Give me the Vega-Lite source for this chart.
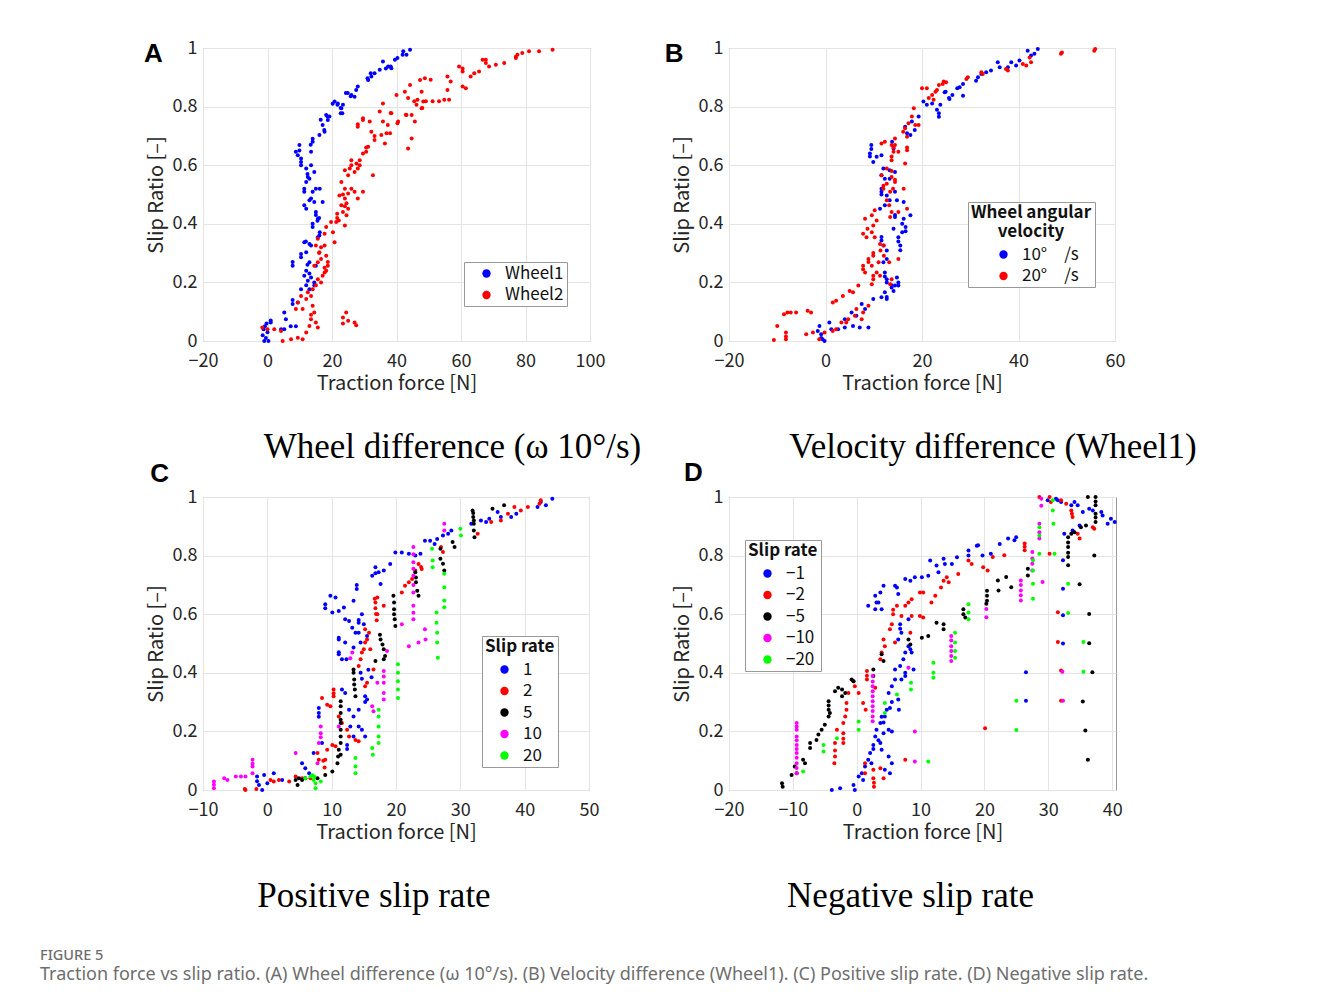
{
"$schema": "https://vega.github.io/schema/vega-lite/v6.json",
"background": "white",
"padding": {"left": 40, "top": 38, "right": 5, "bottom": 5},
"config": {
  "view": {"stroke": "#999999", "strokeWidth": 1},
  "axis": {"grid": true, "gridColor": "#e4e4e4", "gridWidth": 1, "ticks": false, "domain": false, "labelFont": "Noto Sans CJK JP", "labelFontSize": 18, "labelColor": "#262626", "titleFont": "Noto Sans CJK JP", "titleFontSize": 20, "titleFontWeight": "normal", "titleColor": "#262626", "labelFlush": false},
  "axisX": {"labelPadding": 11, "titlePadding": 3},
  "axisY": {"labelPadding": 6, "titlePadding": 6},
  "legend": {"orient": "none", "strokeColor": "#999999", "fillColor": "white", "padding": 3, "labelFont": "Noto Sans CJK JP", "labelFontSize": 17, "labelColor": "#111111", "titleFont": "Noto Sans CJK JP", "titleFontSize": 17, "titleFontWeight": "bold", "titleColor": "#111111", "symbolType": "circle", "symbolSize": 70, "symbolStrokeWidth": 0, "symbolOpacity": 1, "rowPadding": 3.5, "labelOffset": 10, "symbolOffset": 11},
  "title": {"font": "Liberation Serif", "fontSize": 35, "fontWeight": "normal", "color": "#000000"}
},
"datasets": {
"A": [
{"s":"Wheel1","x":-1.5,"y":0.02},{"s":"Wheel1","x":-1.2,"y":0.04},{"s":"Wheel1","x":-1,"y":0.0},{"s":"Wheel1","x":-0.8,"y":0.05},{"s":"Wheel1","x":-0.5,"y":0.01},{"s":"Wheel1","x":-0.3,"y":0.06},{"s":"Wheel1","x":0,"y":0.03},{"s":"Wheel1","x":0.3,"y":0.0},{"s":"Wheel1","x":1,"y":0.063},{"s":"Wheel1","x":1,"y":0.07},
{"s":"Wheel1","x":4.2,"y":0.04},{"s":"Wheel1","x":5.2,"y":0.04},{"s":"Wheel1","x":7.2,"y":0.05},{"s":"Wheel1","x":8.8,"y":0.05},{"s":"Wheel1","x":5.7,"y":0.074},{"s":"Wheel1","x":5.2,"y":0.097},{"s":"Wheel1","x":7.8,"y":0.126},{"s":"Wheel1","x":7.8,"y":0.14},{"s":"Wheel1","x":7.8,"y":0.257},{"s":"Wheel1","x":7.8,"y":0.27},
{"s":"Wheel1","x":9.4,"y":0.131},{"s":"Wheel1","x":10.4,"y":0.177},{"s":"Wheel1","x":10.4,"y":0.297},{"s":"Wheel1","x":11.4,"y":0.223},{"s":"Wheel1","x":12,"y":0.24},{"s":"Wheel1","x":12.5,"y":0.206},{"s":"Wheel1","x":13,"y":0.177},{"s":"Wheel1","x":13.5,"y":0.217},{"s":"Wheel1","x":14.5,"y":0.189},{"s":"Wheel1","x":15,"y":0.257},
{"s":"Wheel1","x":13,"y":0.269},{"s":"Wheel1","x":11.4,"y":0.337},{"s":"Wheel1","x":12,"y":0.303},{"s":"Wheel1","x":10.4,"y":0.286},{"s":"Wheel1","x":13,"y":0.331},{"s":"Wheel1","x":13.5,"y":0.326},{"s":"Wheel1","x":15.6,"y":0.354},{"s":"Wheel1","x":16.2,"y":0.371},{"s":"Wheel1","x":14,"y":0.389},{"s":"Wheel1","x":15.6,"y":0.417},
{"s":"Wheel1","x":15,"y":0.44},{"s":"Wheel1","x":12,"y":0.451},{"s":"Wheel1","x":11.4,"y":0.463},{"s":"Wheel1","x":13,"y":0.48},{"s":"Wheel1","x":14.5,"y":0.474},{"s":"Wheel1","x":17.1,"y":0.474},{"s":"Wheel1","x":11.4,"y":0.509},{"s":"Wheel1","x":13.5,"y":0.486},{"s":"Wheel1","x":12,"y":0.543},{"s":"Wheel1","x":15,"y":0.52},
{"s":"Wheel1","x":16.2,"y":0.52},{"s":"Wheel1","x":14,"y":0.509},{"s":"Wheel1","x":13,"y":0.554},{"s":"Wheel1","x":14.5,"y":0.577},{"s":"Wheel1","x":12,"y":0.589},{"s":"Wheel1","x":13.5,"y":0.6},{"s":"Wheel1","x":10.4,"y":0.611},{"s":"Wheel1","x":9.4,"y":0.634},{"s":"Wheel1","x":8.8,"y":0.646},{"s":"Wheel1","x":9.9,"y":0.669},
{"s":"Wheel1","x":10.4,"y":0.623},{"s":"Wheel1","x":13.5,"y":0.646},{"s":"Wheel1","x":14,"y":0.68},{"s":"Wheel1","x":16.1,"y":0.703},{"s":"Wheel1","x":17.7,"y":0.714},{"s":"Wheel1","x":17.1,"y":0.737},{"s":"Wheel1","x":18.7,"y":0.754},{"s":"Wheel1","x":18.2,"y":0.771},{"s":"Wheel1","x":19.2,"y":0.766},{"s":"Wheel1","x":20.8,"y":0.817},
{"s":"Wheel1","x":21.8,"y":0.811},{"s":"Wheel1","x":22.9,"y":0.794},{"s":"Wheel1","x":23.2,"y":0.777},{"s":"Wheel1","x":23.4,"y":0.806},{"s":"Wheel1","x":24.9,"y":0.846},{"s":"Wheel1","x":26,"y":0.84},{"s":"Wheel1","x":27.5,"y":0.857},{"s":"Wheel1","x":28,"y":0.869},{"s":"Wheel1","x":27,"y":0.834},{"s":"Wheel1","x":31.2,"y":0.891},
{"s":"Wheel1","x":32.2,"y":0.903},{"s":"Wheel1","x":33.2,"y":0.914},{"s":"Wheel1","x":34.8,"y":0.926},{"s":"Wheel1","x":35.8,"y":0.954},{"s":"Wheel1","x":37.4,"y":0.937},{"s":"Wheel1","x":38.4,"y":0.931},{"s":"Wheel1","x":39.5,"y":0.96},{"s":"Wheel1","x":42.1,"y":0.989},{"s":"Wheel1","x":43.1,"y":0.977},{"s":"Wheel1","x":44.2,"y":0.994},
{"s":"Wheel1","x":9.9,"y":0.65},{"s":"Wheel1","x":10.4,"y":0.6},{"s":"Wheel1","x":12.5,"y":0.56},{"s":"Wheel1","x":11.4,"y":0.52},{"s":"Wheel1","x":13,"y":0.23},{"s":"Wheel1","x":12,"y":0.19},{"s":"Wheel1","x":14.5,"y":0.2},{"s":"Wheel1","x":16.1,"y":0.36},{"s":"Wheel1","x":14,"y":0.4},{"s":"Wheel1","x":15,"y":0.43},
{"s":"Wheel1","x":13.4,"y":0.67},{"s":"Wheel1","x":14,"y":0.69},{"s":"Wheel1","x":12.4,"y":0.57},{"s":"Wheel1","x":15.5,"y":0.41},{"s":"Wheel1","x":16,"y":0.42},{"s":"Wheel1","x":11.9,"y":0.34},{"s":"Wheel1","x":12.4,"y":0.26},{"s":"Wheel1","x":40.3,"y":0.966},{"s":"Wheel1","x":41.9,"y":0.977},{"s":"Wheel1","x":36.7,"y":0.93},
{"s":"Wheel1","x":38.2,"y":0.937},{"s":"Wheel1","x":31,"y":0.897},{"s":"Wheel1","x":32,"y":0.914},{"s":"Wheel1","x":24.3,"y":0.846},{"s":"Wheel1","x":25.8,"y":0.835},{"s":"Wheel1","x":22.7,"y":0.795},{"s":"Wheel1","x":22.7,"y":0.777},{"s":"Wheel1","x":20.2,"y":0.81},{"s":"Wheel1","x":21.7,"y":0.806},{"s":"Wheel1","x":16.5,"y":0.755},
{"s":"Wheel1","x":17.6,"y":0.72},{"s":"Wheel1","x":18.6,"y":0.766},
{"s":"Wheel2","x":-1.6,"y":0.046},{"s":"Wheel2","x":0,"y":0.04},{"s":"Wheel2","x":2.1,"y":0.04},{"s":"Wheel2","x":4.2,"y":0.034},{"s":"Wheel2","x":4.7,"y":0.0},{"s":"Wheel2","x":7.3,"y":0.006},{"s":"Wheel2","x":9.4,"y":0.011},{"s":"Wheel2","x":10.9,"y":0.006},{"s":"Wheel2","x":12,"y":0.029},{"s":"Wheel2","x":13,"y":0.051},
{"s":"Wheel2","x":13.5,"y":0.074},{"s":"Wheel2","x":14.5,"y":0.097},{"s":"Wheel2","x":15,"y":0.063},{"s":"Wheel2","x":15.6,"y":0.046},{"s":"Wheel2","x":8.8,"y":0.109},{"s":"Wheel2","x":9.4,"y":0.131},{"s":"Wheel2","x":10.4,"y":0.154},{"s":"Wheel2","x":10.9,"y":0.109},{"s":"Wheel2","x":12,"y":0.143},{"s":"Wheel2","x":12.5,"y":0.166},
{"s":"Wheel2","x":13.5,"y":0.154},{"s":"Wheel2","x":14,"y":0.177},{"s":"Wheel2","x":15.6,"y":0.211},{"s":"Wheel2","x":16.6,"y":0.2},{"s":"Wheel2","x":17.1,"y":0.223},{"s":"Wheel2","x":17.7,"y":0.234},{"s":"Wheel2","x":14.5,"y":0.257},{"s":"Wheel2","x":15.6,"y":0.269},{"s":"Wheel2","x":16.6,"y":0.28},{"s":"Wheel2","x":18.7,"y":0.257},
{"s":"Wheel2","x":18.2,"y":0.291},{"s":"Wheel2","x":15,"y":0.326},{"s":"Wheel2","x":16.1,"y":0.303},{"s":"Wheel2","x":17.7,"y":0.326},{"s":"Wheel2","x":15.6,"y":0.349},{"s":"Wheel2","x":17.7,"y":0.366},{"s":"Wheel2","x":18.2,"y":0.389},{"s":"Wheel2","x":20.3,"y":0.371},{"s":"Wheel2","x":20.8,"y":0.337},{"s":"Wheel2","x":21.3,"y":0.406},
{"s":"Wheel2","x":19.7,"y":0.406},{"s":"Wheel2","x":22.1,"y":0.411},{"s":"Wheel2","x":21.6,"y":0.434},{"s":"Wheel2","x":24,"y":0.394},{"s":"Wheel2","x":23.4,"y":0.44},{"s":"Wheel2","x":24.5,"y":0.429},{"s":"Wheel2","x":22.9,"y":0.463},{"s":"Wheel2","x":25,"y":0.451},{"s":"Wheel2","x":24,"y":0.486},{"s":"Wheel2","x":22.3,"y":0.497},
{"s":"Wheel2","x":25,"y":0.503},{"s":"Wheel2","x":24,"y":0.52},{"s":"Wheel2","x":26,"y":0.52},{"s":"Wheel2","x":27,"y":0.509},{"s":"Wheel2","x":28,"y":0.486},{"s":"Wheel2","x":29.6,"y":0.509},{"s":"Wheel2","x":22.9,"y":0.543},{"s":"Wheel2","x":25,"y":0.566},{"s":"Wheel2","x":24,"y":0.583},{"s":"Wheel2","x":25.5,"y":0.589},
{"s":"Wheel2","x":27,"y":0.577},{"s":"Wheel2","x":27.6,"y":0.606},{"s":"Wheel2","x":26,"y":0.617},{"s":"Wheel2","x":28,"y":0.589},{"s":"Wheel2","x":28.6,"y":0.617},{"s":"Wheel2","x":32.7,"y":0.566},{"s":"Wheel2","x":31.2,"y":0.663},{"s":"Wheel2","x":30.6,"y":0.646},{"s":"Wheel2","x":33.2,"y":0.686},{"s":"Wheel2","x":28,"y":0.731},
{"s":"Wheel2","x":29.6,"y":0.754},{"s":"Wheel2","x":32.2,"y":0.714},{"s":"Wheel2","x":31.7,"y":0.749},{"s":"Wheel2","x":35.3,"y":0.703},{"s":"Wheel2","x":36.4,"y":0.674},{"s":"Wheel2","x":36.9,"y":0.709},{"s":"Wheel2","x":38,"y":0.709},{"s":"Wheel2","x":35.8,"y":0.749},{"s":"Wheel2","x":37.3,"y":0.737},{"s":"Wheel2","x":34.8,"y":0.783},
{"s":"Wheel2","x":35.8,"y":0.811},{"s":"Wheel2","x":38.4,"y":0.777},{"s":"Wheel2","x":40.5,"y":0.749},{"s":"Wheel2","x":43.6,"y":0.657},{"s":"Wheel2","x":44.7,"y":0.691},{"s":"Wheel2","x":44.7,"y":0.771},{"s":"Wheel2","x":43.1,"y":0.771},{"s":"Wheel2","x":45.7,"y":0.749},{"s":"Wheel2","x":40,"y":0.84},{"s":"Wheel2","x":42.6,"y":0.851},
{"s":"Wheel2","x":44.2,"y":0.874},{"s":"Wheel2","x":43.6,"y":0.829},{"s":"Wheel2","x":46.2,"y":0.806},{"s":"Wheel2","x":47.8,"y":0.794},{"s":"Wheel2","x":48.3,"y":0.817},{"s":"Wheel2","x":47.3,"y":0.891},{"s":"Wheel2","x":48.8,"y":0.897},{"s":"Wheel2","x":47.8,"y":0.851},
{"s":"Wheel2","x":23.4,"y":0.08},{"s":"Wheel2","x":24.4,"y":0.097},{"s":"Wheel2","x":25,"y":0.069},{"s":"Wheel2","x":23.4,"y":0.06},{"s":"Wheel2","x":27,"y":0.063},{"s":"Wheel2","x":27.5,"y":0.054},
{"s":"Wheel2","x":45.5,"y":0.818},{"s":"Wheel2","x":46.5,"y":0.823},{"s":"Wheel2","x":48,"y":0.795},{"s":"Wheel2","x":50.6,"y":0.892},{"s":"Wheel2","x":49.1,"y":0.818},{"s":"Wheel2","x":51.2,"y":0.818},{"s":"Wheel2","x":53.2,"y":0.818},{"s":"Wheel2","x":54.8,"y":0.823},{"s":"Wheel2","x":56.3,"y":0.823},{"s":"Wheel2","x":55.8,"y":0.903},
{"s":"Wheel2","x":55.8,"y":0.857},{"s":"Wheel2","x":56.8,"y":0.886},{"s":"Wheel2","x":59.4,"y":0.937},{"s":"Wheel2","x":60.5,"y":0.92},{"s":"Wheel2","x":60.5,"y":0.869},{"s":"Wheel2","x":61.5,"y":0.863},{"s":"Wheel2","x":63,"y":0.903},{"s":"Wheel2","x":64.1,"y":0.914},{"s":"Wheel2","x":65.6,"y":0.92},{"s":"Wheel2","x":66.7,"y":0.96},
{"s":"Wheel2","x":67.7,"y":0.949},{"s":"Wheel2","x":68.7,"y":0.937},{"s":"Wheel2","x":70.8,"y":0.943},{"s":"Wheel2","x":73.4,"y":0.949},{"s":"Wheel2","x":77,"y":0.966},{"s":"Wheel2","x":77.5,"y":0.977},{"s":"Wheel2","x":79,"y":0.983},{"s":"Wheel2","x":81.1,"y":0.989},{"s":"Wheel2","x":84.2,"y":0.989},{"s":"Wheel2","x":88.4,"y":0.994},
{"s":"Wheel2","x":38.2,"y":0.778},{"s":"Wheel2","x":40.3,"y":0.743},{"s":"Wheel2","x":42.9,"y":0.772},
{"s":"Wheel2","x":16,"y":0.3},{"s":"Wheel2","x":16.6,"y":0.32},{"s":"Wheel2","x":17.7,"y":0.25},{"s":"Wheel2","x":18.2,"y":0.24},{"s":"Wheel2","x":18.7,"y":0.27},{"s":"Wheel2","x":15,"y":0.19},{"s":"Wheel2","x":14,"y":0.12},{"s":"Wheel2","x":13.5,"y":0.09},{"s":"Wheel2","x":24,"y":0.46},{"s":"Wheel2","x":24.5,"y":0.47},
{"s":"Wheel2","x":23.4,"y":0.5},{"s":"Wheel2","x":21.6,"y":0.42},{"s":"Wheel2","x":26,"y":0.6},{"s":"Wheel2","x":28.6,"y":0.6},{"s":"Wheel2","x":29.6,"y":0.64},{"s":"Wheel2","x":30.6,"y":0.66},{"s":"Wheel2","x":28,"y":0.74},{"s":"Wheel2","x":29.6,"y":0.76},{"s":"Wheel2","x":33.2,"y":0.7},{"s":"Wheel2","x":60.5,"y":0.93},
{"s":"Wheel2","x":67.7,"y":0.96},{"s":"Wheel2","x":77,"y":0.97}
],
"B": [
{"s":"10","x":-1.25,"y":0.051},{"s":"10","x":-0.9,"y":0.023},{"s":"10","x":-0.6,"y":0.006},{"s":"10","x":-0.2,"y":0.0},{"s":"10","x":-1.6,"y":0.034},{"s":"10","x":0.8,"y":0.063},{"s":"10","x":1.2,"y":0.04},{"s":"10","x":2.6,"y":0.04},{"s":"10","x":4,"y":0.046},{"s":"10","x":5.7,"y":0.051},
{"s":"10","x":7.1,"y":0.046},{"s":"10","x":8.9,"y":0.046},{"s":"10","x":4,"y":0.074},{"s":"10","x":5.4,"y":0.097},{"s":"10","x":6.4,"y":0.086},{"s":"10","x":7.5,"y":0.126},{"s":"10","x":8.2,"y":0.109},{"s":"10","x":9.9,"y":0.143},{"s":"10","x":11.6,"y":0.149},{"s":"10","x":12.3,"y":0.166},
{"s":"10","x":12.7,"y":0.143},{"s":"10","x":12.7,"y":0.211},{"s":"10","x":12.3,"y":0.234},{"s":"10","x":13.7,"y":0.183},{"s":"10","x":14.1,"y":0.171},{"s":"10","x":14.4,"y":0.189},{"s":"10","x":15.1,"y":0.189},{"s":"10","x":14.8,"y":0.217},{"s":"10","x":12,"y":0.269},{"s":"10","x":12.7,"y":0.28},
{"s":"10","x":11.6,"y":0.343},{"s":"10","x":12,"y":0.326},{"s":"10","x":12.7,"y":0.309},{"s":"10","x":15.1,"y":0.354},{"s":"10","x":15.5,"y":0.326},{"s":"10","x":15.9,"y":0.371},{"s":"10","x":16.6,"y":0.389},{"s":"10","x":15.9,"y":0.4},{"s":"10","x":14.1,"y":0.383},{"s":"10","x":14.4,"y":0.423},
{"s":"10","x":16.2,"y":0.417},{"s":"10","x":17.6,"y":0.429},{"s":"10","x":12.3,"y":0.463},{"s":"10","x":11.3,"y":0.451},{"s":"10","x":13.3,"y":0.48},{"s":"10","x":14.8,"y":0.48},{"s":"10","x":11.6,"y":0.509},{"s":"10","x":12.7,"y":0.497},{"s":"10","x":11.6,"y":0.52},{"s":"10","x":14.4,"y":0.509},
{"s":"10","x":16.2,"y":0.474},{"s":"10","x":11.6,"y":0.566},{"s":"10","x":12.3,"y":0.554},{"s":"10","x":13.3,"y":0.554},{"s":"10","x":12,"y":0.589},{"s":"10","x":13.3,"y":0.583},{"s":"10","x":14.4,"y":0.577},{"s":"10","x":9.2,"y":0.64},{"s":"10","x":9.9,"y":0.611},{"s":"10","x":9.5,"y":0.669},
{"s":"10","x":10.6,"y":0.629},{"s":"10","x":11.6,"y":0.634},{"s":"10","x":13.8,"y":0.68},{"s":"10","x":14.1,"y":0.657},{"s":"10","x":16.5,"y":0.731},{"s":"10","x":16.9,"y":0.709},{"s":"10","x":17.9,"y":0.749},{"s":"10","x":17.6,"y":0.703},{"s":"10","x":18.5,"y":0.72},{"s":"10","x":19.3,"y":0.766},
{"s":"10","x":20.3,"y":0.817},{"s":"10","x":21,"y":0.806},{"s":"10","x":22.1,"y":0.811},{"s":"10","x":23.1,"y":0.789},{"s":"10","x":23.5,"y":0.777},{"s":"10","x":23.8,"y":0.806},{"s":"10","x":24.9,"y":0.851},{"s":"10","x":25.6,"y":0.829},{"s":"10","x":26.3,"y":0.84},{"s":"10","x":27.3,"y":0.863},
{"s":"10","x":24.7,"y":0.849},{"s":"10","x":25.7,"y":0.826},{"s":"10","x":27.8,"y":0.866},{"s":"10","x":28.5,"y":0.837},{"s":"10","x":28.5,"y":0.877},{"s":"10","x":31.2,"y":0.888},{"s":"10","x":31.6,"y":0.9},{"s":"10","x":32.3,"y":0.911},{"s":"10","x":33.3,"y":0.917},{"s":"10","x":34.3,"y":0.923},
{"s":"10","x":35.7,"y":0.951},{"s":"10","x":36.1,"y":0.934},{"s":"10","x":37.8,"y":0.934},{"s":"10","x":38.5,"y":0.951},{"s":"10","x":39.5,"y":0.94},{"s":"10","x":40.2,"y":0.957},{"s":"10","x":41.9,"y":0.991},{"s":"10","x":42.6,"y":0.974},{"s":"10","x":43.3,"y":0.98},{"s":"10","x":44,"y":0.997},
{"s":"10","x":9.2,"y":0.63},{"s":"10","x":9.5,"y":0.655},{"s":"10","x":11.6,"y":0.355},{"s":"10","x":12.7,"y":0.2},{"s":"10","x":12.3,"y":0.22},{"s":"10","x":15.1,"y":0.34},{"s":"10","x":15.5,"y":0.31},{"s":"10","x":16.6,"y":0.375},{"s":"10","x":14.4,"y":0.43},{"s":"10","x":11.6,"y":0.5},
{"s":"10","x":23.5,"y":0.765},{"s":"10","x":-0.9,"y":0.01},{"s":"10","x":12.7,"y":0.15},{"s":"10","x":15.1,"y":0.2},{"s":"10","x":13.7,"y":0.19},
{"s":"20","x":-10.7,"y":0.003},{"s":"20","x":-10,"y":0.051},{"s":"20","x":-8.2,"y":0.029},{"s":"20","x":-8.2,"y":0.006},{"s":"20","x":-8.6,"y":0.091},{"s":"20","x":-7.9,"y":0.097},{"s":"20","x":-7.2,"y":0.097},{"s":"20","x":-6.1,"y":0.097},{"s":"20","x":-3.7,"y":0.103},{"s":"20","x":-3,"y":0.097},
{"s":"20","x":-4,"y":0.023},{"s":"20","x":-2.6,"y":0.029},{"s":"20","x":-1.3,"y":0.006},{"s":"20","x":-0.2,"y":0.029},{"s":"20","x":1.5,"y":0.034},{"s":"20","x":2.2,"y":0.04},{"s":"20","x":3.3,"y":0.063},{"s":"20","x":4.3,"y":0.063},{"s":"20","x":4.7,"y":0.074},{"s":"20","x":6.1,"y":0.086},
{"s":"20","x":6.4,"y":0.109},{"s":"20","x":7.5,"y":0.074},{"s":"20","x":7.8,"y":0.097},{"s":"20","x":8.9,"y":0.12},{"s":"20","x":1.5,"y":0.131},{"s":"20","x":2.2,"y":0.137},{"s":"20","x":3.6,"y":0.154},{"s":"20","x":5,"y":0.171},{"s":"20","x":5.7,"y":0.166},{"s":"20","x":6.8,"y":0.189},
{"s":"20","x":8.2,"y":0.234},{"s":"20","x":7.8,"y":0.257},{"s":"20","x":8.9,"y":0.28},{"s":"20","x":9.6,"y":0.257},{"s":"20","x":9.9,"y":0.223},{"s":"20","x":10.6,"y":0.234},{"s":"20","x":9.6,"y":0.194},{"s":"20","x":9.9,"y":0.211},{"s":"20","x":11.3,"y":0.223},{"s":"20","x":13.4,"y":0.194},
{"s":"20","x":13.7,"y":0.211},{"s":"20","x":11,"y":0.269},{"s":"20","x":9.9,"y":0.291},{"s":"20","x":11.4,"y":0.309},{"s":"20","x":12.1,"y":0.291},{"s":"20","x":13.2,"y":0.269},{"s":"20","x":15.1,"y":0.28},{"s":"20","x":8.5,"y":0.354},{"s":"20","x":7.8,"y":0.366},{"s":"20","x":8.7,"y":0.383},
{"s":"20","x":9.9,"y":0.394},{"s":"20","x":9.6,"y":0.371},{"s":"20","x":10.2,"y":0.354},{"s":"20","x":8.2,"y":0.417},{"s":"20","x":9.6,"y":0.429},{"s":"20","x":10.6,"y":0.411},{"s":"20","x":10.2,"y":0.446},{"s":"20","x":11.3,"y":0.331},{"s":"20","x":12.1,"y":0.326},{"s":"20","x":12.7,"y":0.48},
{"s":"20","x":13.2,"y":0.463},{"s":"20","x":13.7,"y":0.44},{"s":"20","x":13.4,"y":0.423},{"s":"20","x":15.1,"y":0.44},{"s":"20","x":16.9,"y":0.451},{"s":"20","x":12,"y":0.52},{"s":"20","x":12.7,"y":0.537},{"s":"20","x":13.4,"y":0.509},{"s":"20","x":14,"y":0.52},{"s":"20","x":13.7,"y":0.56},
{"s":"20","x":14.4,"y":0.543},{"s":"20","x":16.2,"y":0.52},{"s":"20","x":11.6,"y":0.566},{"s":"20","x":12.7,"y":0.589},{"s":"20","x":13.7,"y":0.617},{"s":"20","x":14.1,"y":0.646},{"s":"20","x":13.7,"y":0.669},{"s":"20","x":14.4,"y":0.669},{"s":"20","x":15.1,"y":0.646},{"s":"20","x":16.5,"y":0.606},
{"s":"20","x":16.9,"y":0.651},{"s":"20","x":12.3,"y":0.68},{"s":"20","x":11.6,"y":0.674},{"s":"20","x":14.4,"y":0.691},{"s":"20","x":16.1,"y":0.714},{"s":"20","x":16.5,"y":0.726},{"s":"20","x":16.9,"y":0.697},{"s":"20","x":17.2,"y":0.743},{"s":"20","x":17.9,"y":0.766},{"s":"20","x":18.3,"y":0.794},
{"s":"20","x":18.6,"y":0.737},{"s":"20","x":19.3,"y":0.737},{"s":"20","x":20,"y":0.863},{"s":"20","x":21,"y":0.863},{"s":"20","x":21.4,"y":0.829},{"s":"20","x":22.1,"y":0.84},{"s":"20","x":22.8,"y":0.851},{"s":"20","x":22.4,"y":0.823},{"s":"20","x":23.5,"y":0.874},{"s":"20","x":24.5,"y":0.886},
{"s":"20","x":23.1,"y":0.857},{"s":"20","x":24.3,"y":0.877},{"s":"20","x":25,"y":0.883},{"s":"20","x":29.2,"y":0.894},{"s":"20","x":29.5,"y":0.9},{"s":"20","x":32.3,"y":0.917},{"s":"20","x":32.6,"y":0.911},{"s":"20","x":37.4,"y":0.928},{"s":"20","x":37.8,"y":0.923},{"s":"20","x":40.9,"y":0.945},
{"s":"20","x":41.6,"y":0.94},{"s":"20","x":42.3,"y":0.968},{"s":"20","x":42.6,"y":0.951},{"s":"20","x":48.8,"y":0.98},{"s":"20","x":49,"y":0.985},{"s":"20","x":55.7,"y":0.991},{"s":"20","x":55.9,"y":0.997},
{"s":"20","x":-8.2,"y":0.015},{"s":"20","x":7.8,"y":0.245},{"s":"20","x":13.7,"y":0.63},{"s":"20","x":14.1,"y":0.66},{"s":"20","x":13.7,"y":0.58},{"s":"20","x":9.9,"y":0.3},{"s":"20","x":8.9,"y":0.27},{"s":"20","x":16.9,"y":0.66},{"s":"20","x":14.4,"y":0.55},{"s":"20","x":12,"y":0.53}
],
"C": [
{"s":"1","x":-1.6,"y":0.046},{"s":"1","x":-1.3,"y":0.017},{"s":"1","x":-0.8,"y":0},{"s":"1","x":-0.5,"y":0.051},{"s":"1","x":0,"y":0.023},{"s":"1","x":1,"y":0.057},{"s":"1","x":2.3,"y":0.034},{"s":"1","x":5.4,"y":0.091},{"s":"1","x":5.9,"y":0.074},{"s":"1","x":6.5,"y":0.057},
{"s":"1","x":7.2,"y":0.126},{"s":"1","x":8,"y":0.263},{"s":"1","x":8,"y":0.28},{"s":"1","x":8.5,"y":0.16},{"s":"1","x":9.8,"y":0.663},{"s":"1","x":9,"y":0.634},{"s":"1","x":10.1,"y":0.606},{"s":"1","x":11.1,"y":0.611},{"s":"1","x":10.6,"y":0.657},{"s":"1","x":11.9,"y":0.623},
{"s":"1","x":12.1,"y":0.583},{"s":"1","x":12.7,"y":0.577},{"s":"1","x":11.1,"y":0.514},{"s":"1","x":12.1,"y":0.503},{"s":"1","x":11.1,"y":0.463},{"s":"1","x":11.6,"y":0.446},{"s":"1","x":12.3,"y":0.446},{"s":"1","x":13.2,"y":0.554},{"s":"1","x":13.7,"y":0.537},{"s":"1","x":13.4,"y":0.486},
{"s":"1","x":14.2,"y":0.571},{"s":"1","x":14.7,"y":0.6},{"s":"1","x":15,"y":0.566},{"s":"1","x":14.2,"y":0.537},{"s":"1","x":14.5,"y":0.503},{"s":"1","x":15.5,"y":0.526},{"s":"1","x":13.4,"y":0.646},{"s":"1","x":13.9,"y":0.686},{"s":"1","x":16.3,"y":0.731},{"s":"1","x":16.8,"y":0.76},
{"s":"1","x":17.3,"y":0.743},{"s":"1","x":18.1,"y":0.749},{"s":"1","x":17.6,"y":0.703},{"s":"1","x":19.1,"y":0.771},{"s":"1","x":11.6,"y":0.343},{"s":"1","x":12.1,"y":0.331},{"s":"1","x":12.7,"y":0.274},{"s":"1","x":12.9,"y":0.217},{"s":"1","x":12.4,"y":0.154},{"s":"1","x":13.4,"y":0.183},
{"s":"1","x":14.2,"y":0.217},{"s":"1","x":14.7,"y":0.206},{"s":"1","x":15.2,"y":0.183},{"s":"1","x":15.2,"y":0.32},{"s":"1","x":15.5,"y":0.309},{"s":"1","x":14.2,"y":0.274},{"s":"1","x":13.4,"y":0.251},{"s":"1","x":19.9,"y":0.811},{"s":"1","x":20.9,"y":0.811},{"s":"1","x":22,"y":0.806},
{"s":"1","x":23,"y":0.8},{"s":"1","x":23.8,"y":0.806},{"s":"1","x":24.5,"y":0.851},{"s":"1","x":25.3,"y":0.851},{"s":"1","x":26.4,"y":0.857},{"s":"1","x":26,"y":0.84},{"s":"1","x":27.3,"y":0.869},{"s":"1","x":28.1,"y":0.875},{"s":"1","x":28.6,"y":0.886},{"s":"1","x":31.7,"y":0.909},
{"s":"1","x":33.2,"y":0.92},{"s":"1","x":34,"y":0.915},{"s":"1","x":34.5,"y":0.926},{"s":"1","x":35.8,"y":0.949},{"s":"1","x":36.3,"y":0.932},{"s":"1","x":37.9,"y":0.932},{"s":"1","x":38.7,"y":0.943},{"s":"1","x":42,"y":0.966},{"s":"1","x":42.5,"y":0.983},{"s":"1","x":43.3,"y":0.972},
{"s":"1","x":44.3,"y":0.994},{"s":"1","x":11.1,"y":0.47},{"s":"1","x":11.1,"y":0.52},{"s":"1","x":14.2,"y":0.58},{"s":"1","x":13.9,"y":0.7},{"s":"1","x":9,"y":0.62},{"s":"1","x":12.4,"y":0.14},{"s":"1","x":16.8,"y":0.74},{"s":"1","x":15.2,"y":0.3},{"s":"1","x":14.5,"y":0.4},
{"s":"1","x":14.7,"y":0.38},{"s":"1","x":-1.6,"y":0.03},{"s":"1","x":8,"y":0.25},{"s":"1","x":15.7,"y":0.41},{"s":"1","x":16.2,"y":0.385},
{"s":"2","x":-3.4,"y":0},{"s":"2","x":-3.5,"y":0.003},{"s":"2","x":-1.7,"y":0.003},{"s":"2","x":0.5,"y":0.034},{"s":"2","x":1,"y":0.029},{"s":"2","x":1.8,"y":0.034},{"s":"2","x":3.4,"y":0.029},{"s":"2","x":4.4,"y":0.046},{"s":"2","x":5.4,"y":0.04},{"s":"2","x":6.7,"y":0.04},
{"s":"2","x":7.8,"y":0.126},{"s":"2","x":8,"y":0.103},{"s":"2","x":9,"y":0.103},{"s":"2","x":9.3,"y":0.137},{"s":"2","x":10.1,"y":0.154},{"s":"2","x":10.6,"y":0.149},{"s":"2","x":8.5,"y":0.314},{"s":"2","x":9.3,"y":0.291},{"s":"2","x":9.8,"y":0.286},{"s":"2","x":10.3,"y":0.343},
{"s":"2","x":10.3,"y":0.32},{"s":"2","x":11.1,"y":0.251},{"s":"2","x":11.6,"y":0.229},{"s":"2","x":12.4,"y":0.206},{"s":"2","x":12.7,"y":0.183},{"s":"2","x":13.7,"y":0.171},{"s":"2","x":14.2,"y":0.166},{"s":"2","x":14.2,"y":0.423},{"s":"2","x":14.5,"y":0.446},{"s":"2","x":14.7,"y":0.469},
{"s":"2","x":15,"y":0.48},{"s":"2","x":15.2,"y":0.503},{"s":"2","x":15.5,"y":0.514},{"s":"2","x":15.8,"y":0.537},{"s":"2","x":15.2,"y":0.549},{"s":"2","x":16,"y":0.48},{"s":"2","x":16.5,"y":0.411},{"s":"2","x":16.8,"y":0.64},{"s":"2","x":17.1,"y":0.657},{"s":"2","x":18.1,"y":0.629},
{"s":"2","x":15.2,"y":0.354},{"s":"2","x":15.5,"y":0.366},{"s":"2","x":20.9,"y":0.674},{"s":"2","x":21.4,"y":0.697},{"s":"2","x":22,"y":0.709},{"s":"2","x":22.5,"y":0.72},{"s":"2","x":23,"y":0.749},{"s":"2","x":23.5,"y":0.771},{"s":"2","x":24,"y":0.754},{"s":"2","x":16.7,"y":0.653},
{"s":"2","x":16.9,"y":0.601},{"s":"2","x":17,"y":0.579},{"s":"2","x":23.9,"y":0.761},{"s":"2","x":27,"y":0.829},{"s":"2","x":27.3,"y":0.812},{"s":"2","x":32.7,"y":0.875},{"s":"2","x":34.8,"y":0.915},{"s":"2","x":36.3,"y":0.92},{"s":"2","x":37.4,"y":0.943},{"s":"2","x":38.4,"y":0.966},
{"s":"2","x":39.4,"y":0.954},{"s":"2","x":40.5,"y":0.966},{"s":"2","x":42.3,"y":0.977},{"s":"2","x":42.5,"y":0.989},{"s":"2","x":8.7,"y":0.1},{"s":"2","x":8.9,"y":0.077},{"s":"2","x":10.3,"y":0.33},{"s":"2","x":16.8,"y":0.62},{"s":"2","x":17.1,"y":0.6},
{"s":"5","x":4.4,"y":0.034},{"s":"5","x":4.7,"y":0.017},{"s":"5","x":4.9,"y":0.04},{"s":"5","x":5.4,"y":0.034},{"s":"5","x":5.9,"y":0.04},{"s":"5","x":7.8,"y":0.04},{"s":"5","x":9,"y":0.051},{"s":"5","x":10.1,"y":0.063},{"s":"5","x":10.9,"y":0.091},{"s":"5","x":11,"y":0.114},
{"s":"5","x":11.1,"y":0.137},{"s":"5","x":11.4,"y":0.16},{"s":"5","x":11.4,"y":0.183},{"s":"5","x":11.4,"y":0.206},{"s":"5","x":11.4,"y":0.229},{"s":"5","x":11.4,"y":0.263},{"s":"5","x":11.4,"y":0.286},{"s":"5","x":11.4,"y":0.303},{"s":"5","x":13.4,"y":0.411},{"s":"5","x":13.5,"y":0.377},
{"s":"5","x":13.6,"y":0.343},{"s":"5","x":13.7,"y":0.32},{"s":"5","x":13.4,"y":0.4},{"s":"5","x":16.8,"y":0.44},{"s":"5","x":17.6,"y":0.514},{"s":"5","x":17.9,"y":0.497},{"s":"5","x":18.1,"y":0.48},{"s":"5","x":18.1,"y":0.446},{"s":"5","x":18.3,"y":0.457},{"s":"5","x":19.6,"y":0.663},
{"s":"5","x":19.7,"y":0.64},{"s":"5","x":19.7,"y":0.617},{"s":"5","x":19.8,"y":0.583},{"s":"5","x":19.9,"y":0.56},{"s":"5","x":23,"y":0.743},{"s":"5","x":23.1,"y":0.709},{"s":"5","x":23.3,"y":0.68},{"s":"5","x":23.5,"y":0.663},{"s":"5","x":26.9,"y":0.823},{"s":"5","x":26.9,"y":0.789},
{"s":"5","x":27.3,"y":0.772},{"s":"5","x":27.5,"y":0.749},{"s":"5","x":28.8,"y":0.846},{"s":"5","x":29.1,"y":0.829},{"s":"5","x":31.9,"y":0.954},{"s":"5","x":32,"y":0.932},{"s":"5","x":32.1,"y":0.909},{"s":"5","x":32.1,"y":0.886},{"s":"5","x":32.2,"y":0.863},{"s":"5","x":35,"y":0.96},
{"s":"5","x":36.8,"y":0.972},{"s":"5","x":11.4,"y":0.24},{"s":"5","x":11.4,"y":0.12},{"s":"5","x":13.5,"y":0.36},{"s":"5","x":19.7,"y":0.6},{"s":"5","x":23.1,"y":0.725},{"s":"5","x":17.5,"y":0.53},{"s":"5","x":32.1,"y":0.92},{"s":"5","x":32,"y":0.945},
{"s":"10","x":-8.3,"y":0.029},{"s":"10","x":-8.3,"y":0.006},{"s":"10","x":-6.7,"y":0.04},{"s":"10","x":-6.2,"y":0.034},{"s":"10","x":-4.9,"y":0.046},{"s":"10","x":-4.1,"y":0.046},{"s":"10","x":-3.4,"y":0.046},{"s":"10","x":-2.3,"y":0.103},{"s":"10","x":-2.3,"y":0.08},{"s":"10","x":-2.3,"y":0.057},
{"s":"10","x":4.4,"y":0.126},{"s":"10","x":7.8,"y":0.091},{"s":"10","x":8,"y":0.16},{"s":"10","x":8.3,"y":0.194},{"s":"10","x":8.3,"y":0.217},{"s":"10","x":11.1,"y":0.217},{"s":"10","x":12.9,"y":0.45},{"s":"10","x":13.2,"y":0.469},{"s":"10","x":16.3,"y":0.286},{"s":"10","x":16.5,"y":0.269},
{"s":"10","x":17.1,"y":0.366},{"s":"10","x":18.1,"y":0.406},{"s":"10","x":18.1,"y":0.366},{"s":"10","x":18.1,"y":0.331},{"s":"10","x":18.1,"y":0.309},{"s":"10","x":18.6,"y":0.474},{"s":"10","x":20.9,"y":0.566},{"s":"10","x":22,"y":0.491},{"s":"10","x":22.7,"y":0.829},{"s":"10","x":22.7,"y":0.777},
{"s":"10","x":22.7,"y":0.731},{"s":"10","x":22.7,"y":0.674},{"s":"10","x":22.7,"y":0.629},{"s":"10","x":22.7,"y":0.583},{"s":"10","x":23.5,"y":0.503},{"s":"10","x":24.5,"y":0.549},{"s":"10","x":24.6,"y":0.514},{"s":"10","x":27.5,"y":0.909},{"s":"10","x":27.5,"y":0.886},{"s":"10","x":22.7,"y":0.805},
{"s":"10","x":22.7,"y":0.755},{"s":"10","x":22.7,"y":0.7},{"s":"10","x":22.7,"y":0.605},{"s":"10","x":18.1,"y":0.387},{"s":"10","x":8.3,"y":0.18},{"s":"10","x":-2.3,"y":0.09},{"s":"10","x":-8.3,"y":0.018},
{"s":"20","x":5.9,"y":0.04},{"s":"20","x":6.7,"y":0.046},{"s":"20","x":7.2,"y":0.034},{"s":"20","x":7.5,"y":0.023},{"s":"20","x":7.5,"y":0.006},{"s":"20","x":8.3,"y":0.029},{"s":"20","x":13.7,"y":0.109},{"s":"20","x":13.7,"y":0.08},{"s":"20","x":13.7,"y":0.057},{"s":"20","x":16.3,"y":0.143},
{"s":"20","x":16.4,"y":0.12},{"s":"20","x":17.3,"y":0.274},{"s":"20","x":17.3,"y":0.251},{"s":"20","x":17.3,"y":0.217},{"s":"20","x":17.3,"y":0.183},{"s":"20","x":17.3,"y":0.16},{"s":"20","x":20.3,"y":0.429},{"s":"20","x":20.3,"y":0.4},{"s":"20","x":20.3,"y":0.371},{"s":"20","x":20.3,"y":0.343},
{"s":"20","x":20.3,"y":0.314},{"s":"20","x":25.6,"y":0.823},{"s":"20","x":25.7,"y":0.783},{"s":"20","x":25.7,"y":0.76},{"s":"20","x":26.3,"y":0.606},{"s":"20","x":26.3,"y":0.571},{"s":"20","x":26.4,"y":0.537},{"s":"20","x":26.4,"y":0.503},{"s":"20","x":26.5,"y":0.451},{"s":"20","x":27.5,"y":0.738},
{"s":"20","x":27.5,"y":0.692},{"s":"20","x":27.5,"y":0.647},{"s":"20","x":27.5,"y":0.624},{"s":"20","x":30,"y":0.892},{"s":"20","x":30.1,"y":0.869},{"s":"20","x":7.3,"y":0.045},{"s":"20","x":7,"y":0.05}
],
"D": [
{"s":"−1","x":-3.9,"y":0},{"s":"−1","x":-2.6,"y":0.006},{"s":"−1","x":-0.5,"y":0.017},{"s":"−1","x":-0.3,"y":0},{"s":"−1","x":0.3,"y":0.046},{"s":"−1","x":0.8,"y":0.057},{"s":"−1","x":1,"y":0.034},{"s":"−1","x":1.3,"y":0.08},{"s":"−1","x":1.8,"y":0.103},{"s":"−1","x":2.1,"y":0.126},
{"s":"−1","x":2.3,"y":0.091},{"s":"−1","x":2.6,"y":0.154},{"s":"−1","x":2.9,"y":0.183},{"s":"−1","x":3.1,"y":0.206},{"s":"−1","x":3.7,"y":0.229},{"s":"−1","x":3.7,"y":0.16},{"s":"−1","x":3.9,"y":0.137},{"s":"−1","x":4.2,"y":0.194},{"s":"−1","x":4.4,"y":0.251},{"s":"−1","x":4.7,"y":0.274},
{"s":"−1","x":5,"y":0.206},{"s":"−1","x":5,"y":0.114},{"s":"−1","x":5.5,"y":0.091},{"s":"−1","x":5.2,"y":0.057},{"s":"−1","x":4.4,"y":0.069},{"s":"−1","x":5.5,"y":0.2},{"s":"−1","x":5,"y":0.331},{"s":"−1","x":5.5,"y":0.354},{"s":"−1","x":6,"y":0.377},{"s":"−1","x":6.5,"y":0.309},
{"s":"−1","x":6.6,"y":0.274},{"s":"−1","x":7,"y":0.377},{"s":"−1","x":7.6,"y":0.389},{"s":"−1","x":6,"y":0.411},{"s":"−1","x":6.8,"y":0.423},{"s":"−1","x":7.3,"y":0.446},{"s":"−1","x":7.6,"y":0.469},{"s":"−1","x":8.1,"y":0.491},{"s":"−1","x":8.4,"y":0.48},{"s":"−1","x":6.5,"y":0.514},
{"s":"−1","x":7,"y":0.537},{"s":"−1","x":6.8,"y":0.566},{"s":"−1","x":8.1,"y":0.583},{"s":"−1","x":8.6,"y":0.469},{"s":"−1","x":8.9,"y":0.411},{"s":"−1","x":1.8,"y":0.629},{"s":"−1","x":2.9,"y":0.617},{"s":"−1","x":2.9,"y":0.663},{"s":"−1","x":3.4,"y":0.64},{"s":"−1","x":3.7,"y":0.674},
{"s":"−1","x":3.9,"y":0.617},{"s":"−1","x":4.2,"y":0.697},{"s":"−1","x":6,"y":0.697},{"s":"−1","x":6.3,"y":0.691},{"s":"−1","x":6.5,"y":0.669},{"s":"−1","x":7.6,"y":0.72},{"s":"−1","x":8.4,"y":0.714},{"s":"−1","x":9.1,"y":0.726},{"s":"−1","x":10.2,"y":0.726},{"s":"−1","x":11.2,"y":0.731},
{"s":"−1","x":11.5,"y":0.783},{"s":"−1","x":12.5,"y":0.766},{"s":"−1","x":12.8,"y":0.743},{"s":"−1","x":13.6,"y":0.789},{"s":"−1","x":13.8,"y":0.771},{"s":"−1","x":14.9,"y":0.771},{"s":"−1","x":15.7,"y":0.794},{"s":"−1","x":17.5,"y":0.817},{"s":"−1","x":17.5,"y":0.8},{"s":"−1","x":18.8,"y":0.834},
{"s":"−1","x":19,"y":0.835},{"s":"−1","x":19.7,"y":0.8},{"s":"−1","x":21,"y":0.806},{"s":"−1","x":22.4,"y":0.84},{"s":"−1","x":23.7,"y":0.858},{"s":"−1","x":24.7,"y":0.852},{"s":"−1","x":24.96,"y":0.863},{"s":"−1","x":29.9,"y":0.989},{"s":"−1","x":31.2,"y":0.994},{"s":"−1","x":31.5,"y":0.989},
{"s":"−1","x":32,"y":0.983},{"s":"−1","x":32.3,"y":0.784},{"s":"−1","x":32.3,"y":0.687},{"s":"−1","x":32.5,"y":0.875},{"s":"−1","x":32.3,"y":0.596},{"s":"−1","x":32.3,"y":0.5},{"s":"−1","x":26.5,"y":0.402},{"s":"−1","x":26.5,"y":0.305},{"s":"−1","x":33.6,"y":0.972},{"s":"−1","x":34.1,"y":0.983},
{"s":"−1","x":34.6,"y":0.972},{"s":"−1","x":35.4,"y":0.949},{"s":"−1","x":36.4,"y":0.96},{"s":"−1","x":36.97,"y":0.954},{"s":"−1","x":38.3,"y":0.949},{"s":"−1","x":38.5,"y":0.937},{"s":"−1","x":39.3,"y":0.909},{"s":"−1","x":39.8,"y":0.926},{"s":"−1","x":40.4,"y":0.915},{"s":"−1","x":33.8,"y":0.886},
{"s":"−1","x":34.9,"y":0.903},{"s":"−1","x":5.5,"y":0.3},{"s":"−1","x":5.2,"y":0.28},{"s":"−1","x":3.4,"y":0.17},{"s":"−1","x":2.6,"y":0.14},{"s":"−1","x":3.1,"y":0.64},{"s":"−1","x":6.8,"y":0.55},{"s":"−1","x":7.6,"y":0.4},{"s":"−1","x":3.9,"y":0.25},{"s":"−1","x":4.2,"y":0.23},
{"s":"−2","x":-3.4,"y":0.16},{"s":"−2","x":-3.4,"y":0.114},{"s":"−2","x":-3.5,"y":0.091},{"s":"−2","x":-3.1,"y":0.206},{"s":"−2","x":-2.1,"y":0.229},{"s":"−2","x":-2.1,"y":0.194},{"s":"−2","x":-2.1,"y":0.16},{"s":"−2","x":-1.8,"y":0.251},{"s":"−2","x":-1.6,"y":0.297},{"s":"−2","x":-1.6,"y":0.274},
{"s":"−2","x":-1.3,"y":0.331},{"s":"−2","x":-0.5,"y":0.371},{"s":"−2","x":-0.3,"y":0.354},{"s":"−2","x":0.3,"y":0.331},{"s":"−2","x":1,"y":0.297},{"s":"−2","x":1.4,"y":0.274},{"s":"−2","x":1.3,"y":0.091},{"s":"−2","x":1.3,"y":0.057},{"s":"−2","x":2.6,"y":0.069},{"s":"−2","x":2.6,"y":0.04},
{"s":"−2","x":2.7,"y":0.011},{"s":"−2","x":3.7,"y":0.074},{"s":"−2","x":4.2,"y":0.04},{"s":"−2","x":1.6,"y":0.406},{"s":"−2","x":1.6,"y":0.377},{"s":"−2","x":2.9,"y":0.349},{"s":"−2","x":3.7,"y":0.446},{"s":"−2","x":3.9,"y":0.469},{"s":"−2","x":4.2,"y":0.514},{"s":"−2","x":4.4,"y":0.491},
{"s":"−2","x":5.2,"y":0.549},{"s":"−2","x":5.5,"y":0.566},{"s":"−2","x":5.7,"y":0.6},{"s":"−2","x":6,"y":0.503},{"s":"−2","x":6.3,"y":0.629},{"s":"−2","x":7,"y":0.594},{"s":"−2","x":7.6,"y":0.629},{"s":"−2","x":8.4,"y":0.537},{"s":"−2","x":8.6,"y":0.594},{"s":"−2","x":9.9,"y":0.594},
{"s":"−2","x":10.4,"y":0.589},{"s":"−2","x":8.1,"y":0.64},{"s":"−2","x":8.6,"y":0.651},{"s":"−2","x":9.9,"y":0.674},{"s":"−2","x":10.4,"y":0.674},{"s":"−2","x":11.7,"y":0.64},{"s":"−2","x":12.3,"y":0.663},{"s":"−2","x":13.2,"y":0.691},{"s":"−2","x":13.6,"y":0.714},{"s":"−2","x":14.1,"y":0.726},
{"s":"−2","x":14.4,"y":0.709},{"s":"−2","x":15.9,"y":0.737},{"s":"−2","x":17.5,"y":0.783},{"s":"−2","x":18,"y":0.771},{"s":"−2","x":19.8,"y":0.76},{"s":"−2","x":7.6,"y":0.103},{"s":"−2","x":20.1,"y":0.211},{"s":"−2","x":20.5,"y":0.749},{"s":"−2","x":21.3,"y":0.795},{"s":"−2","x":23.1,"y":0.801},
{"s":"−2","x":26.3,"y":0.841},{"s":"−2","x":26.3,"y":0.818},{"s":"−2","x":28.6,"y":1},{"s":"−2","x":30.2,"y":1},{"s":"−2","x":30.4,"y":0.983},{"s":"−2","x":32,"y":0.989},{"s":"−2","x":32.8,"y":0.977},{"s":"−2","x":33.6,"y":0.954},{"s":"−2","x":33.8,"y":0.932},{"s":"−2","x":34.6,"y":0.875},
{"s":"−2","x":34.9,"y":0.858},{"s":"−2","x":36.97,"y":0.897},{"s":"−2","x":37.2,"y":0.892},{"s":"−2","x":30.2,"y":0.806},{"s":"−2","x":31.5,"y":0.607},{"s":"−2","x":31.5,"y":0.505},{"s":"−2","x":32,"y":0.408},{"s":"−2","x":32,"y":0.305},{"s":"−2","x":-3.4,"y":0.135},{"s":"−2","x":-2.1,"y":0.175},
{"s":"−2","x":2.7,"y":0.025},{"s":"−2","x":5.7,"y":0.615},{"s":"−2","x":26.3,"y":0.83},{"s":"−2","x":33.7,"y":0.943},{"s":"−2","x":1.6,"y":0.39},
{"s":"−5","x":-11.7,"y":0.023},{"s":"−5","x":-11.6,"y":0.011},{"s":"−5","x":-10.2,"y":0.051},{"s":"−5","x":-9.7,"y":0.08},{"s":"−5","x":-9.4,"y":0.057},{"s":"−5","x":-8.4,"y":0.103},{"s":"−5","x":-8.1,"y":0.091},{"s":"−5","x":-7.3,"y":0.143},{"s":"−5","x":-7.3,"y":0.16},{"s":"−5","x":-6.3,"y":0.171},
{"s":"−5","x":-6,"y":0.189},{"s":"−5","x":-5.5,"y":0.206},{"s":"−5","x":-5,"y":0.223},{"s":"−5","x":-4.4,"y":0.251},{"s":"−5","x":-4.4,"y":0.274},{"s":"−5","x":-4.4,"y":0.303},{"s":"−5","x":-4.2,"y":0.263},{"s":"−5","x":-3.4,"y":0.337},{"s":"−5","x":-2.9,"y":0.349},{"s":"−5","x":-2.3,"y":0.343},
{"s":"−5","x":-2.3,"y":0.32},{"s":"−5","x":-1.8,"y":0.331},{"s":"−5","x":-0.8,"y":0.377},{"s":"−5","x":-0.5,"y":0.371},{"s":"−5","x":2.6,"y":0.411},{"s":"−5","x":2.6,"y":0.389},{"s":"−5","x":3.9,"y":0.463},{"s":"−5","x":4.2,"y":0.44},{"s":"−5","x":8.1,"y":0.514},{"s":"−5","x":8.4,"y":0.497},
{"s":"−5","x":10.2,"y":0.52},{"s":"−5","x":11.2,"y":0.526},{"s":"−5","x":12.5,"y":0.571},{"s":"−5","x":13.6,"y":0.566},{"s":"−5","x":13.6,"y":0.549},{"s":"−5","x":16.7,"y":0.617},{"s":"−5","x":16.7,"y":0.6},{"s":"−5","x":17,"y":0.589},{"s":"−5","x":20.4,"y":0.663},{"s":"−5","x":20.4,"y":0.646},
{"s":"−5","x":20.3,"y":0.636},{"s":"−5","x":22.1,"y":0.715},{"s":"−5","x":22.2,"y":0.681},{"s":"−5","x":23.4,"y":0.727},{"s":"−5","x":24.2,"y":0.692},{"s":"−5","x":26.8,"y":0.755},{"s":"−5","x":26.8,"y":0.732},{"s":"−5","x":33.1,"y":0.863},{"s":"−5","x":33.1,"y":0.829},{"s":"−5","x":33.1,"y":0.795},
{"s":"−5","x":33.1,"y":0.767},{"s":"−5","x":33.6,"y":0.875},{"s":"−5","x":34.1,"y":0.88},{"s":"−5","x":35.1,"y":0.897},{"s":"−5","x":35.9,"y":0.903},{"s":"−5","x":36.2,"y":1.0},{"s":"−5","x":37.4,"y":1.0},{"s":"−5","x":37.4,"y":0.972},{"s":"−5","x":37.4,"y":0.943},{"s":"−5","x":37.4,"y":0.915},
{"s":"−5","x":37.2,"y":0.8},{"s":"−5","x":34.9,"y":0.702},{"s":"−5","x":36.4,"y":0.601},{"s":"−5","x":36.4,"y":0.501},{"s":"−5","x":36.9,"y":0.402},{"s":"−5","x":35.4,"y":0.302},{"s":"−5","x":35.8,"y":0.203},{"s":"−5","x":36.2,"y":0.103},{"s":"−5","x":33.1,"y":0.845},{"s":"−5","x":33.1,"y":0.81},
{"s":"−5","x":-4.4,"y":0.288},{"s":"−5","x":37.4,"y":0.93},{"s":"−5","x":37.4,"y":0.985},{"s":"−5","x":20.4,"y":0.68},
{"s":"−10","x":-9.4,"y":0.229},{"s":"−10","x":-9.4,"y":0.206},{"s":"−10","x":-9.4,"y":0.183},{"s":"−10","x":-9.4,"y":0.154},{"s":"−10","x":-9.4,"y":0.126},{"s":"−10","x":-9.4,"y":0.091},{"s":"−10","x":-9.4,"y":0.057},{"s":"−10","x":-9.4,"y":0.217},{"s":"−10","x":-9.4,"y":0.17},{"s":"−10","x":-9.4,"y":0.14},
{"s":"−10","x":-9.4,"y":0.11},{"s":"−10","x":-9.4,"y":0.075},{"s":"−10","x":2.5,"y":0.389},{"s":"−10","x":2.5,"y":0.354},{"s":"−10","x":2.5,"y":0.32},{"s":"−10","x":2.5,"y":0.286},{"s":"−10","x":2.5,"y":0.251},{"s":"−10","x":2.5,"y":0.37},{"s":"−10","x":2.5,"y":0.337},{"s":"−10","x":2.5,"y":0.303},
{"s":"−10","x":2.5,"y":0.27},{"s":"−10","x":2.5,"y":0.235},{"s":"−10","x":8.1,"y":0.417},{"s":"−10","x":9.1,"y":0.2},{"s":"−10","x":9.1,"y":0.097},{"s":"−10","x":14.8,"y":0.526},{"s":"−10","x":14.8,"y":0.491},{"s":"−10","x":14.8,"y":0.457},{"s":"−10","x":14.8,"y":0.51},{"s":"−10","x":14.8,"y":0.474},
{"s":"−10","x":14.8,"y":0.44},{"s":"−10","x":20.3,"y":0.618},{"s":"−10","x":20.3,"y":0.59},{"s":"−10","x":25.7,"y":0.715},{"s":"−10","x":25.7,"y":0.681},{"s":"−10","x":25.7,"y":0.647},{"s":"−10","x":27.5,"y":0.812},{"s":"−10","x":27.5,"y":0.772},{"s":"−10","x":27.5,"y":0.749},{"s":"−10","x":28.6,"y":0.909},
{"s":"−10","x":28.6,"y":0.88},{"s":"−10","x":28.6,"y":0.858},{"s":"−10","x":28.9,"y":0.994},{"s":"−10","x":29.1,"y":0.71},{"s":"−10","x":32.2,"y":0.404},{"s":"−10","x":32.3,"y":0.305},{"s":"−10","x":25.7,"y":0.7},{"s":"−10","x":25.7,"y":0.665},{"s":"−10","x":27.5,"y":0.79},{"s":"−10","x":28.9,"y":0.97},
{"s":"−20","x":-8.4,"y":0.063},{"s":"−20","x":-5.2,"y":0.154},{"s":"−20","x":-5.2,"y":0.131},{"s":"−20","x":-3.1,"y":0.177},{"s":"−20","x":0.3,"y":0.234},{"s":"−20","x":0.3,"y":0.206},{"s":"−20","x":4.4,"y":0.297},{"s":"−20","x":4.4,"y":0.263},{"s":"−20","x":6.3,"y":0.326},{"s":"−20","x":8.5,"y":0.366},
{"s":"−20","x":8.5,"y":0.343},{"s":"−20","x":11.2,"y":0.097},{"s":"−20","x":12,"y":0.434},{"s":"−20","x":12,"y":0.4},{"s":"−20","x":12,"y":0.383},{"s":"−20","x":15.4,"y":0.537},{"s":"−20","x":15.4,"y":0.503},{"s":"−20","x":15.4,"y":0.474},{"s":"−20","x":15.4,"y":0.451},{"s":"−20","x":17.5,"y":0.634},
{"s":"−20","x":17.5,"y":0.606},{"s":"−20","x":17.5,"y":0.583},{"s":"−20","x":25,"y":0.305},{"s":"−20","x":25,"y":0.205},{"s":"−20","x":27.6,"y":0.784},{"s":"−20","x":27.6,"y":0.749},{"s":"−20","x":27.6,"y":0.704},{"s":"−20","x":27.6,"y":0.653},{"s":"−20","x":28.6,"y":0.897},{"s":"−20","x":28.6,"y":0.869},
{"s":"−20","x":28.6,"y":0.806},{"s":"−20","x":30.7,"y":0.989},{"s":"−20","x":30.7,"y":0.954},{"s":"−20","x":30.8,"y":0.909},{"s":"−20","x":30.97,"y":0.806},{"s":"−20","x":33.1,"y":0.704},{"s":"−20","x":33.1,"y":0.604},{"s":"−20","x":35.5,"y":0.505},{"s":"−20","x":35.5,"y":0.404}
]
},
"title": {"text": "FIGURE 5", "subtitle": "Traction force vs slip ratio. (A) Wheel difference (ω 10°/s). (B) Velocity difference (Wheel1). (C) Positive slip rate. (D) Negative slip rate.", "orient": "bottom", "anchor": "start", "frame": "group", "dx": -163, "offset": 34, "font": "Noto Sans", "fontSize": 14.5, "fontWeight": 500, "color": "#6e6e6e", "subtitleFont": "Noto Sans", "subtitleFontSize": 18, "subtitleColor": "#6e6e6e", "subtitlePadding": 3},
"columns": 2,
"bounds": "flush",
"spacing": {"row": 156, "column": 139},
"resolve": {"scale": {"color": "independent"}, "legend": {"color": "independent"}},
"concat": [
{
"width": 387, "height": 293,
"title": {"text": "Wheel difference (ω 10°/s)", "orient": "bottom", "anchor": "middle", "frame": "group", "dx": 56, "offset": 37},
"layer": [
{"data": {"name": "A"}, "mark": {"type": "circle", "size": 16, "opacity": 1},
 "encoding": {
  "x": {"field": "x", "type": "quantitative", "scale": {"domain": [-20, 100], "nice": false}, "axis": {"title": "Traction force [N]", "values": [-20, 0, 20, 40, 60, 80, 100], "format": "d"}},
  "y": {"field": "y", "type": "quantitative", "scale": {"domain": [0, 1], "nice": false}, "axis": {"title": "Slip Ratio [–]", "values": [0, 0.2, 0.4, 0.6, 0.8, 1], "format": ".1~f"}},
  "color": {"field": "s", "type": "nominal", "scale": {"domain": ["Wheel1", "Wheel2"], "range": ["#0000ff", "#ff0000"]}, "legend": {"title": null, "legendX": 261, "legendY": 214}}
 }},
{"data": {"values": [{"t": "A"}]}, "mark": {"type": "text", "font": "Liberation Sans", "fontSize": 26, "fontWeight": "bold", "align": "left", "baseline": "alphabetic", "color": "#000000"},
 "encoding": {"x": {"datum": -38.3, "type": "quantitative"}, "y": {"datum": 0.952, "type": "quantitative"}, "text": {"field": "t"}}}
]
},
{
"width": 386, "height": 293,
"title": {"text": "Velocity difference (Wheel1)", "orient": "bottom", "anchor": "middle", "frame": "group", "dx": 71, "offset": 37},
"layer": [
{"data": {"name": "B"}, "mark": {"type": "circle", "size": 16, "opacity": 1},
 "encoding": {
  "x": {"field": "x", "type": "quantitative", "scale": {"domain": [-20, 60], "nice": false}, "axis": {"title": "Traction force [N]", "values": [-20, 0, 20, 40, 60], "format": "d"}},
  "y": {"field": "y", "type": "quantitative", "scale": {"domain": [0, 1], "nice": false}, "axis": {"title": "Slip Ratio [–]", "values": [0, 0.2, 0.4, 0.6, 0.8, 1], "format": ".1~f"}},
  "color": {"field": "s", "type": "nominal", "scale": {"domain": ["10", "20"], "range": ["#0000ff", "#ff0000"]}, "legend": {"title": ["Wheel angular", "velocity"], "titleAlign": "center", "titleAnchor": "middle", "labelExpr": "datum.label + '°\u2003/s'", "legendX": 239, "legendY": 154}}
 }},
{"data": {"values": [{"t": "B"}]}, "mark": {"type": "text", "font": "Liberation Sans", "fontSize": 26, "fontWeight": "bold", "align": "left", "baseline": "alphabetic", "color": "#000000"},
 "encoding": {"x": {"datum": -33.3, "type": "quantitative"}, "y": {"datum": 0.952, "type": "quantitative"}, "text": {"field": "t"}}}
]
},
{
"width": 386, "height": 293,
"title": {"text": "Positive slip rate", "orient": "bottom", "anchor": "middle", "frame": "group", "dx": -22, "offset": 37},
"layer": [
{"data": {"name": "C"}, "mark": {"type": "circle", "size": 16, "opacity": 1},
 "encoding": {
  "x": {"field": "x", "type": "quantitative", "scale": {"domain": [-10, 50], "nice": false}, "axis": {"title": "Traction force [N]", "values": [-10, 0, 10, 20, 30, 40, 50], "format": "d"}},
  "y": {"field": "y", "type": "quantitative", "scale": {"domain": [0, 1], "nice": false}, "axis": {"title": "Slip Ratio [–]", "values": [0, 0.2, 0.4, 0.6, 0.8, 1], "format": ".1~f"}},
  "color": {"field": "s", "type": "nominal", "scale": {"domain": ["1", "2", "5", "10", "20"], "range": ["#0000ff", "#ff0000", "#000000", "#ff00ff", "#00ff00"]}, "legend": {"title": "Slip rate", "legendX": 279, "legendY": 139}}
 }},
{"data": {"values": [{"t": "C"}]}, "mark": {"type": "text", "font": "Liberation Sans", "fontSize": 26, "fontWeight": "bold", "align": "left", "baseline": "alphabetic", "color": "#000000"},
 "encoding": {"x": {"datum": -18.2, "type": "quantitative"}, "y": {"datum": 1.051, "type": "quantitative"}, "text": {"field": "t"}}}
]
},
{
"width": 387, "height": 293,
"title": {"text": "Negative slip rate", "orient": "bottom", "anchor": "middle", "frame": "group", "dx": -12, "offset": 37},
"layer": [
{"data": {"name": "D"}, "mark": {"type": "circle", "size": 16, "opacity": 1},
 "encoding": {
  "x": {"field": "x", "type": "quantitative", "scale": {"domain": [-20, 40.6], "nice": false}, "axis": {"title": "Traction force [N]", "values": [-20, -10, 0, 10, 20, 30, 40], "format": "d"}},
  "y": {"field": "y", "type": "quantitative", "scale": {"domain": [0, 1], "nice": false}, "axis": {"title": "Slip Ratio [–]", "values": [0, 0.2, 0.4, 0.6, 0.8, 1], "format": ".1~f"}},
  "color": {"field": "s", "type": "nominal", "scale": {"domain": ["−1", "−2", "−5", "−10", "−20"], "range": ["#0000ff", "#ff0000", "#000000", "#ff00ff", "#00ff00"]}, "legend": {"title": "Slip rate", "legendX": 16, "legendY": 43}}
 }},
{"data": {"values": [{"t": "D"}]}, "mark": {"type": "text", "font": "Liberation Sans", "fontSize": 26, "fontWeight": "bold", "align": "left", "baseline": "alphabetic", "color": "#000000"},
 "encoding": {"x": {"datum": -27.05, "type": "quantitative"}, "y": {"datum": 1.055, "type": "quantitative"}, "text": {"field": "t"}}}
]
}
]
}
